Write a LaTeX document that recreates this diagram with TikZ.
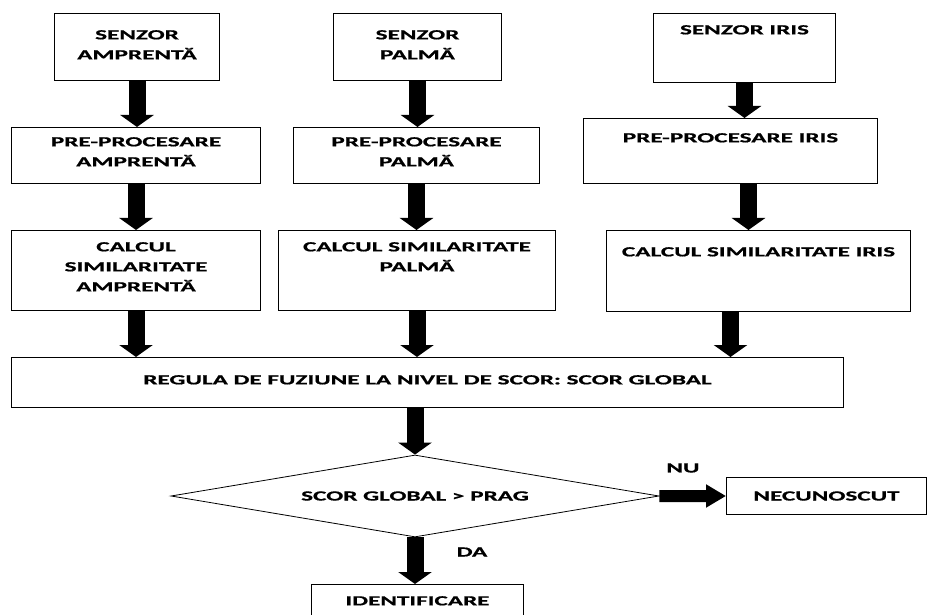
\documentclass[tikz,border=0pt]{standalone}
\usepackage{fontspec}
\setmainfont{Carlito}[FakeStretch=1.8, BoldFeatures={FakeBold=0.8}]
\usetikzlibrary{arrows.meta,shapes.geometric}

\tikzset{
  box/.style={draw, line width=1bp, anchor=north west, inner sep=0pt},
  lbl/.style={anchor=north, align=center, inner sep=0pt},
  bigarrow/.style={line width=17bp, -{Triangle[width=33bp,length=12bp]}},
  sidearrow/.style={line width=12bp, -{Triangle[width=22bp,length=20bp]}}
}

\begin{document}
\begin{tikzpicture}[x=1bp, y=-1bp, font=\fontsize{14bp}{20bp}\selectfont\bfseries]
  \useasboundingbox (0,0) rectangle (928,615);
  \clip (0,0) rectangle (928,615);

  % Sensors
  \node[box, minimum width=165bp, minimum height=67bp] (sa) at (54,13) {};
  \node[box, minimum width=168bp, minimum height=67bp] (sp) at (333,13) {};
  \node[box, minimum width=182bp, minimum height=69bp] (si) at (653,13) {};
  \node[lbl] (tsa) at ([yshift=-17bp]sa.north) {SENZOR\\AMPRENTĂ};
  \node[lbl] (tsp) at ([yshift=-17bp]sp.north) {SENZOR\\PALMĂ};
  \node[lbl] (tsi) at ([yshift=-12bp]si.north) {SENZOR IRIS};

  % Pre-processing
  \node[box, minimum width=249bp, minimum height=56bp] (pa) at (11,127) {};
  \node[box, minimum width=246bp, minimum height=56bp] (pp) at (293,127) {};
  \node[box, minimum width=294bp, minimum height=65bp] (pi) at (583,118) {};
  \node[lbl] (tpa) at ([yshift=-10bp]pa.north) {PRE-PROCESARE\\AMPRENTĂ};
  \node[lbl] (tpp) at ([yshift=-10bp]pp.north) {PRE-PROCESARE\\PALMĂ};
  \node[lbl] (tpi) at ([yshift=-15bp]pi.north) {PRE-PROCESARE IRIS};

  % Similarity
  \node[box, minimum width=249bp, minimum height=80bp] (ca) at (11,230) {};
  \node[box, minimum width=277bp, minimum height=80bp] (cp) at (278,230) {};
  \node[box, minimum width=304bp, minimum height=81bp] (ci) at (606,230) {};
  \node[lbl] (tca) at ([yshift=-12bp]ca.north) {CALCUL\\SIMILARITATE\\AMPRENTĂ};
  \node[lbl] (tcp) at ([yshift=-12bp]cp.north) {CALCUL SIMILARITATE\\PALMĂ};
  \node[lbl] (tci) at ([yshift=-17bp]ci.north) {CALCUL SIMILARITATE IRIS};

  % Fusion and decision
  \node[box, minimum width=832bp, minimum height=50bp] (fus) at (11,357) {};
  \node[lbl] (tfus) at ([yshift=-18bp]fus.north) {REGULA DE FUZIUNE LA NIVEL DE SCOR: SCOR GLOBAL};
  \node[draw, line width=0.8bp, diamond, aspect=5.95, inner sep=0pt, minimum width=488bp, minimum height=82bp]
    (dec) at (415,496) {SCOR GLOBAL > PRAG};
  \node[box, minimum width=200bp, minimum height=37bp] (nec) at (726,477) {NECUNOSCUT};
  \node[box, minimum width=212bp, minimum height=40bp] (id) at (311,584) {};
  \node[lbl] (tid) at ([yshift=-12bp]id.north) {IDENTIFICARE};

  % Arrows
  \draw[bigarrow] (sa.south) -- (sa.south |- pa.north);
  \draw[bigarrow] (pa.south) -- (ca.north);
  \draw[bigarrow] (ca.south) -- (ca.south |- fus.north);
  \draw[bigarrow] (sp.south) -- (sp.south |- pp.north);
  \draw[bigarrow] (pp.south) -- (pp.south |- cp.north);
  \draw[bigarrow] (cp.south) -- (cp.south |- fus.north);
  \draw[bigarrow] (si.south) -- (si.south |- pi.north);
  \draw[bigarrow] ([xshift=4bp]pi.south -| si.south) -- ([xshift=4bp]si.south |- ci.north);
  \draw[bigarrow] (ci.south -| pi.south) -- (pi.south |- fus.north);
  \draw[bigarrow] (dec.north |- fus.south) -- (dec.north);
  \draw[bigarrow] (dec.south) -- (dec.south |- id.north);
  \draw[sidearrow] (dec.east) -- (nec.west);

  % Branch labels
  \node (nu) at (683,468) {NU};
  \node (da) at (472,552) {DA};
\end{tikzpicture}
\end{document}
